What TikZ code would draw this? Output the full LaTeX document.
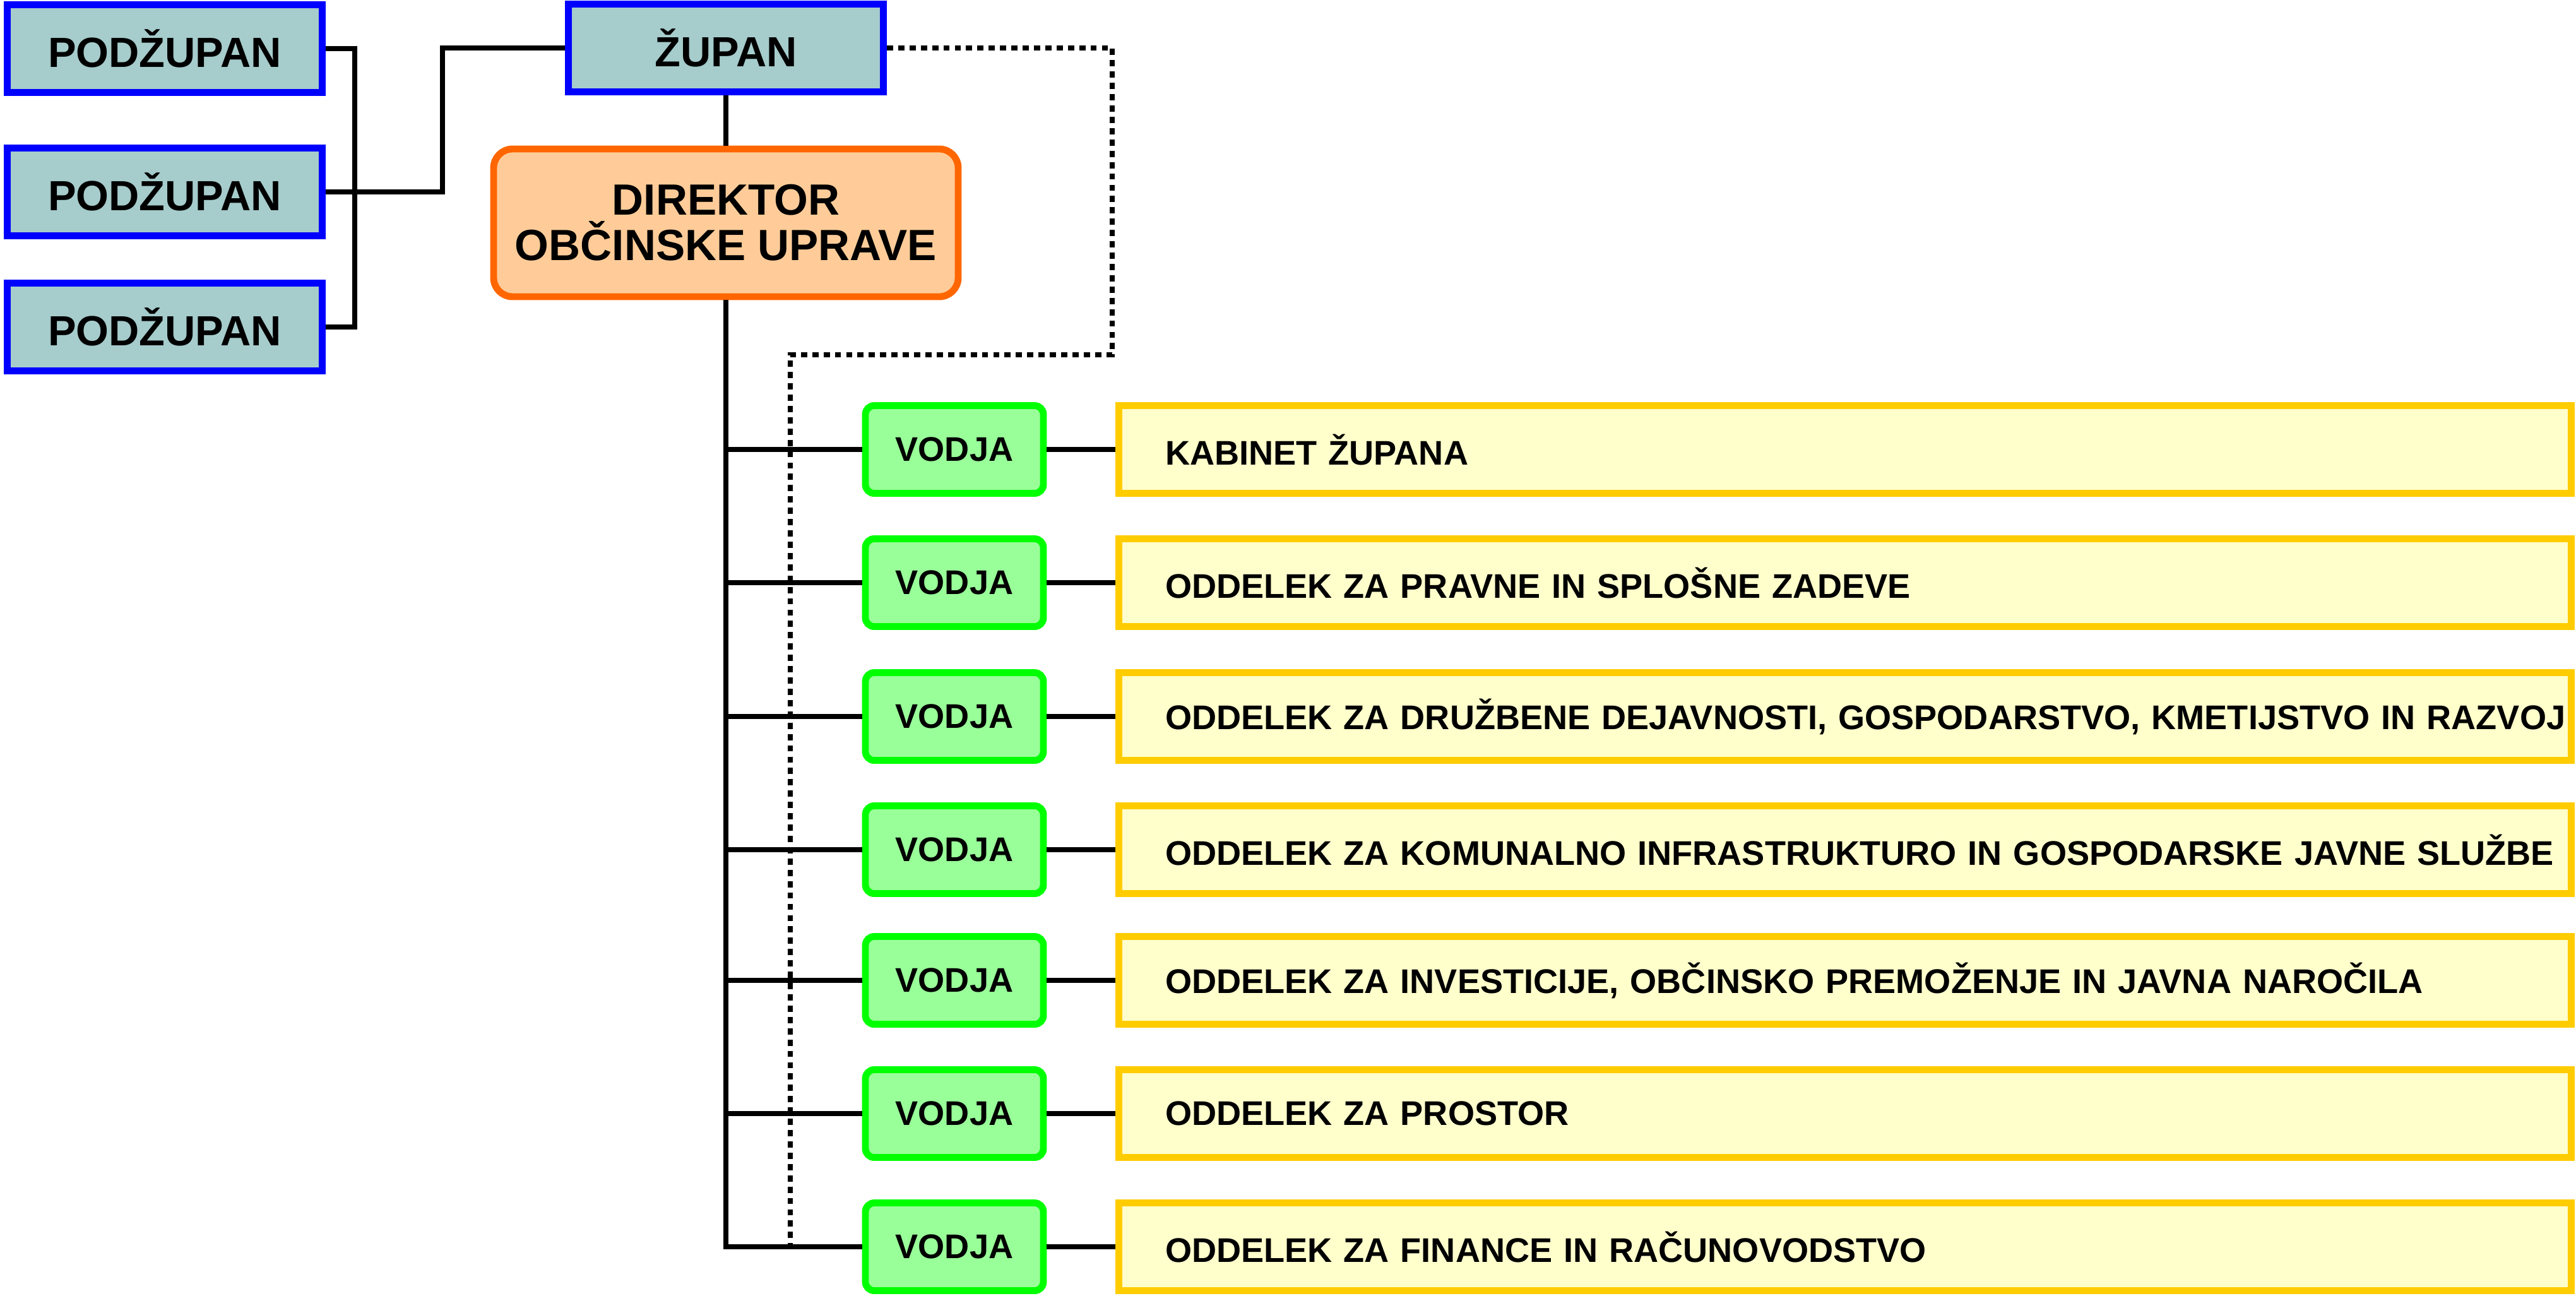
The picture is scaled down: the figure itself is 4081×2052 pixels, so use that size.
\documentclass[tikz,border=0pt]{standalone}
\usepackage{fontspec}
\setmainfont{Liberation Sans}
\usepackage{xcolor}
\usepackage{tikz}
\usetikzlibrary{positioning,calc}
\definecolor{podfill}{HTML}{A6CCCC}
\definecolor{podline}{HTML}{0000FF}
\definecolor{dirfill}{HTML}{FFCC99}
\definecolor{dirline}{HTML}{FF6600}
\definecolor{leadfill}{HTML}{99FF99}
\definecolor{leadline}{HTML}{00FF00}
\definecolor{deptfill}{HTML}{FFFFCC}
\definecolor{deptline}{HTML}{FFCC00}
\newcommand{\bigtx}{\fontsize{19}{21}\selectfont\bfseries}
\newcommand{\dirtx}{\fontsize{19.7}{20.5}\selectfont\bfseries}
\newcommand{\smalltx}{\fontsize{15.4}{17}\selectfont\bfseries}
\tikzset{
  blk/.style    = {draw, align=center, inner sep=0pt, line width=3.1pt},
  head/.style   = {blk, fill=podfill, draw=podline, minimum width=49.9mm,
                   minimum height=13.9mm, font=\bigtx},
  dirbox/.style = {blk, fill=dirfill, draw=dirline, rounded corners=3mm,
                   minimum width=73.6mm, minimum height=23.4mm, font=\dirtx},
  lead/.style   = {blk, fill=leadfill, draw=leadline, rounded corners=1.4mm,
                   minimum width=28.2mm, minimum height=13.9mm, font=\smalltx},
  dept/.style   = {blk, fill=deptfill, draw=deptline, align=left,
                   text width=215.4mm, inner xsep=7.35mm,
                   minimum height=13.9mm, font=\smalltx},
  ln/.style     = {line width=2.2pt},
  dotln/.style  = {line width=2.2pt, dash pattern=on 2.8pt off 2.3pt}
}

\begin{document}
\begin{tikzpicture}[x=0.1mm, y=-0.1mm]
\useasboundingbox (0,0) rectangle (4081,2052);

\node[head] (pod1) at (261,77) {PODŽUPAN};
\node[head] (pod2) at (261,304) {PODŽUPAN};
\node[head] (pod3) at (261,518) {PODŽUPAN};
\node[head] (zupan) at (1150,76) {ŽUPAN};
\node[dirbox] (dir) at (1150,353) {DIREKTOR\\OBČINSKE UPRAVE};

\node[lead] (v1) at (1512,712) {VODJA};
\node[lead] (v2) at (1512,923) {VODJA};
\node[lead] (v3) at (1512,1135) {VODJA};
\node[lead] (v4) at (1512,1346) {VODJA};
\node[lead] (v5) at (1512,1553) {VODJA};
\node[lead] (v6) at (1512,1764) {VODJA};
\node[lead] (v7) at (1512,1975) {VODJA};

\node[dept] (d1) at (2923,712) {KABINET ŽUPANA};
\node[dept] (d2) at (2923,923) {ODDELEK ZA PRAVNE IN SPLOŠNE ZADEVE};
\node[dept] (d3) at (2923,1135)
  {\mbox{ODDELEK ZA DRUŽBENE DEJAVNOSTI, GOSPODARSTVO, KMETIJSTVO IN RAZVOJ}};
\node[dept] (d4) at (2923,1346)
  {\mbox{ODDELEK ZA KOMUNALNO INFRASTRUKTURO IN GOSPODARSKE JAVNE SLUŽBE}};
\node[dept] (d5) at (2923,1553)
  {ODDELEK ZA INVESTICIJE, OBČINSKO PREMOŽENJE IN JAVNA NAROČILA};
\node[dept] (d6) at (2923,1764) {ODDELEK ZA PROSTOR};
\node[dept] (d7) at (2923,1975) {ODDELEK ZA FINANCE IN RAČUNOVODSTVO};

\draw[ln] (pod1.east) -- ++(46,0) |- (pod3.east);
\draw[ln] (pod2.east) -- ++(185,0) |- (zupan.west);
\draw[ln] (zupan.south) -- (dir.north);
\draw[ln] (dir.south) |- (v7.west);
\draw[ln] (v1.west) -- (v1.west -| dir.south);
\draw[ln] (v2.west) -- (v2.west -| dir.south);
\draw[ln] (v3.west) -- (v3.west -| dir.south);
\draw[ln] (v4.west) -- (v4.west -| dir.south);
\draw[ln] (v5.west) -- (v5.west -| dir.south);
\draw[ln] (v6.west) -- (v6.west -| dir.south);
\draw[ln] (v1) -- (d1);
\draw[ln] (v2) -- (d2);
\draw[ln] (v3) -- (d3);
\draw[ln] (v4) -- (d4);
\draw[ln] (v5) -- (d5);
\draw[ln] (v6) -- (d6);
\draw[ln] (v7) -- (d7);

\coordinate (dotR) at (1762,562);
\coordinate (dotL) at (1252,562);
\draw[dotln] (zupan.east) -| (dotR) -- (dotL) -- (dotL |- v7.west);
\end{tikzpicture}
\end{document}
